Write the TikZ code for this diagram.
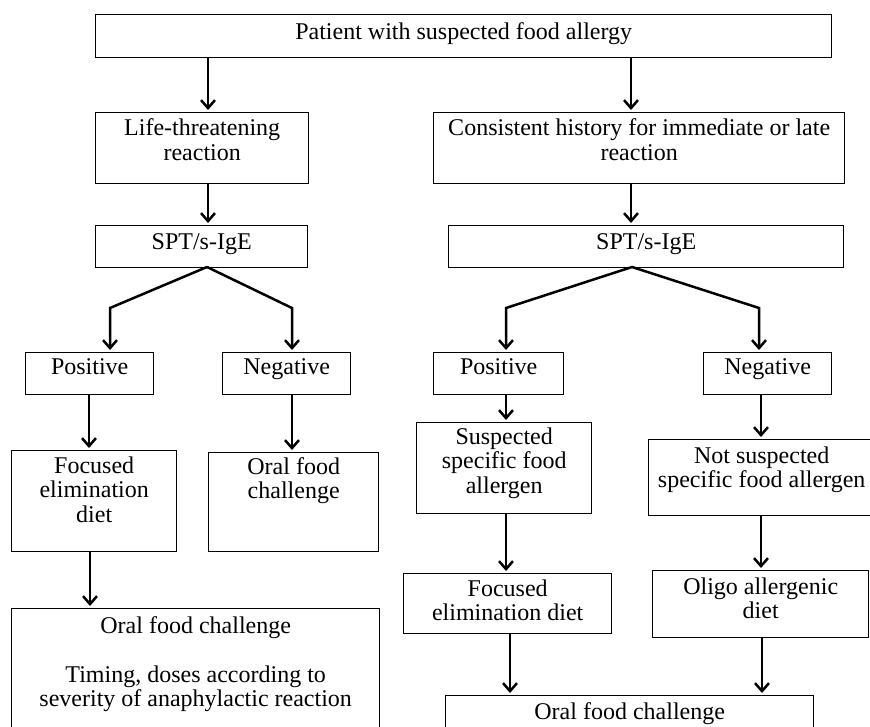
\documentclass[tikz,border=0pt]{standalone}
\usepackage{fontspec}
\setmainfont{Liberation Serif}
\usetikzlibrary{arrows.meta}

\begin{document}
\begin{tikzpicture}[x=1pt, y=-1pt,
    box/.style={draw, line width=1.4pt, align=center, inner sep=0pt, anchor=north west,
        font=\fontsize{24}{24.5}\selectfont},
    arr/.style={-{Straight Barb[length=8pt,width=14pt]}, line width=2.5pt, shorten >=2pt}]
        \clip (0,0) rectangle (870,727);

        % Top
        \node [box, minimum width=736, minimum height=43, text depth=11] (top) at (95,14) {Patient with suspected food allergy};

        % Left branch
        \node [box, minimum width=213, minimum height=71, text depth=17.5] (lt) at (95,112) {Life-threatening\\reaction};
        \node [box, minimum width=212, minimum height=42, text depth=10] (spt1) at (95,225) {SPT/s-IgE};
        \node [box, minimum width=128, minimum height=42, text depth=14] (pos1) at (25,352) {Positive};
        \node [box, minimum width=128, minimum height=42, text depth=14] (neg1) at (222,352) {Negative};
        \node [box, minimum width=165, minimum height=101, text depth=24] (foc1) at (11,450) {Focused\\elimination\\diet};
        \node [box, minimum width=170, minimum height=99, text depth=48.5] (ofc1) at (208,452) {Oral food\\challenge};
        \node [box, minimum width=368, minimum height=152, text depth=46.5] (ofc3) at (11,608) {Oral food challenge\\[24.5pt]Timing, doses according to\\severity of anaphylactic reaction};

        % Right branch
        \node [box, minimum width=411, minimum height=71, text depth=17.5] (cons) at (433,112) {Consistent history for immediate or late\\reaction};
        \node [box, minimum width=395, minimum height=42, text depth=10] (spt2) at (448,225) {SPT/s-IgE};
        \node [box, minimum width=130, minimum height=42, text depth=14] (pos2) at (433,352) {Positive};
        \node [box, minimum width=128, minimum height=42, text depth=14] (neg2) at (703,352) {Negative};
        \node [box, minimum width=175, minimum height=91, text depth=16] (susp) at (416,422) {Suspected\\specific food\\allergen};
        \node [box, minimum width=226, minimum height=76, text depth=21.5] (nsusp) at (648,439) {Not suspected\\specific food allergen};
        \node [box, minimum width=208, minimum height=60, text depth=7.5] (foc2) at (403,573) {Focused\\elimination diet};
        \node [box, minimum width=216, minimum height=67, text depth=12.5] (oligo) at (652,570) {Oligo allergenic\\diet};
        \node [box, minimum width=368, minimum height=36, text depth=6] (ofc2) at (445,695) {Oral food challenge};

        % Split points
        \coordinate (ap1) at (207,267);
        \coordinate (bl1) at (110,308);
        \coordinate (br1) at (292,308);
        \coordinate (ap2) at (632,267);
        \coordinate (bl2) at (506,308);
        \coordinate (br2) at (759,308);

        % Arrows
        \draw [arr] (top.south -| 208,0) -- (lt.north -| 208,0);
        \draw [arr] (top.south -| 631,0) -- (cons.north -| 631,0);
        \draw [arr] (lt.south -| 208,0) -- (spt1.north -| 208,0);
        \draw [arr] (cons.south -| 631,0) -- (spt2.north -| 631,0);

        \draw [arr] (ap1) -- (bl1) -- (bl1 |- pos1.north);
        \draw [arr] (ap1) -- (br1) -- (br1 |- neg1.north);
        \draw [arr] (ap2) -- (bl2) -- (bl2 |- pos2.north);
        \draw [arr] (ap2) -- (br2) -- (br2 |- neg2.north);

        \draw [arr] (pos1.south -| 89,0) -- (foc1.north -| 89,0);
        \draw [arr] (neg1.south -| 292,0) -- (ofc1.north -| 292,0);
        \draw [arr] (foc1.south -| 90,0) -- (ofc3.north -| 90,0);

        \draw [arr] (pos2.south -| 506,0) -- (susp.north -| 506,0);
        \draw [arr] (neg2.south -| 761,0) -- (nsusp.north -| 761,0);
        \draw [arr] (susp.south -| 506,0) -- (foc2.north -| 506,0);
        \draw [arr] (nsusp.south -| 761,0) -- (oligo.north -| 761,0);
        \draw [arr] (foc2.south -| 510,0) -- (ofc2.north -| 510,0);
        \draw [arr] (oligo.south -| 762,0) -- (ofc2.north -| 762,0);
    \end{tikzpicture}
\end{document}
